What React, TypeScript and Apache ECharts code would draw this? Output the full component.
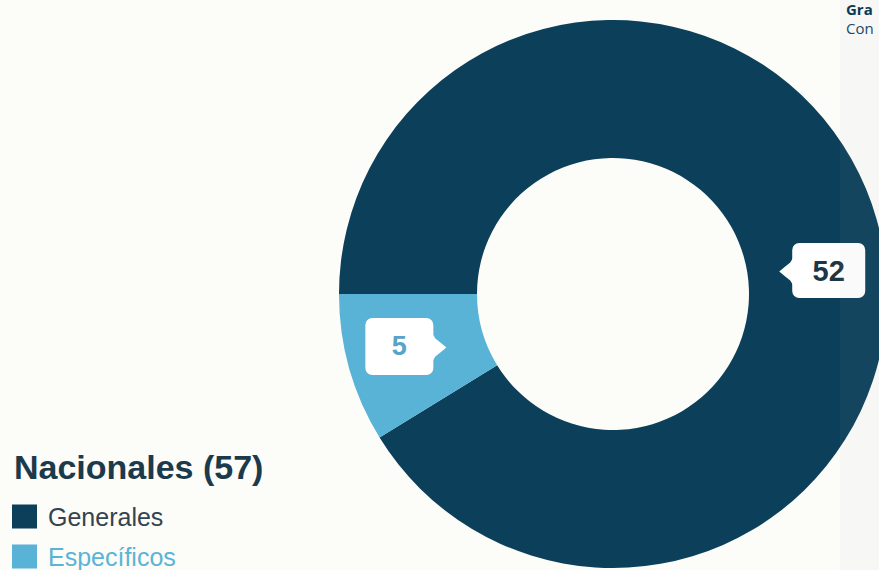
import React, { useEffect, useRef } from "react";
import * as echarts from "echarts";

// ---- data ----
const categories = ["Generales", "Específicos"];
const values = [52, 5];
const titleText = "Nacionales (57)";
const sideTexts = ["Gra", "Con"];

// ---- layout / style ----
const W = 879;
const H = 570;
const CX = 613;
const CY = 294;
const R_IN = 136;
const R_OUT = 274;
const DARK = "#0b3f5a";
const LIGHT = "#58b3d7";
const sliceColors = [DARK, LIGHT];
const labelColors = ["#1d3646", "#5aa3c6"];
const legendTextColors = ["#34434e", "#5ab4d6"];
// label placement (polar, degrees counter-clockwise from 3 o'clock) and box sizes
const labelPolar = [
  { angle: 6.2, r: 217, w: 73, h: 55, side: "left" },
  { angle: 193.8, r: 220, w: 68, h: 57, side: "right" },
];

function labelCenter(i: number) {
  const p = labelPolar[i];
  const a = (p.angle * Math.PI) / 180;
  return { x: CX + p.r * Math.cos(a), y: CY - p.r * Math.sin(a) };
}

function arrowPoints(i: number): number[][] {
  const p = labelPolar[i];
  const c = labelCenter(i);
  const dir = p.side === "left" ? -1 : 1;
  const bx = c.x + dir * (p.w / 2 - 1);
  const cy = c.y + 1;
  const len = 14;
  return [
    [bx, cy - 14],
    [bx + dir * 3, cy - 9],
    [bx + dir * 8, cy - 5],
    [bx + dir * len, cy],
    [bx + dir * 8, cy + 5],
    [bx + dir * 3, cy + 9],
    [bx, cy + 14],
  ];
}

export default function App() {
  const ref = useRef<HTMLDivElement>(null);
  useEffect(() => {
    if (!ref.current) return;
    const chart = echarts.init(ref.current, undefined, { renderer: "svg" });
    const option: any = {
      animation: false,
      backgroundColor: "#fcfcf9",
      title: {
        text: titleText,
        left: 9,
        top: 445,
        textStyle: {
          fontFamily: "Liberation Sans, Arial, sans-serif",
          fontSize: 34,
          fontWeight: "bold",
          color: "#1b3a4c",
        },
      },
      legend: {
        orient: "vertical",
        left: 12,
        top: 504,
        height: 120,
        padding: 0,
        icon: "rect",
        itemWidth: 25,
        itemHeight: 24,
        itemGap: 15,
        selectedMode: false,
        textStyle: {
          fontFamily: "Liberation Sans, Arial, sans-serif",
          fontSize: 25,
          padding: [0, 0, 0, 6],
        },
        data: categories.map((name, i) => ({
          name,
          textStyle: { color: legendTextColors[i] },
        })),
      },
      series: [
        {
          type: "pie",
          center: [CX, CY],
          radius: [R_IN, R_OUT],
          startAngle: 180,
          clockwise: true,
          avoidLabelOverlap: false,
          silent: true,
          itemStyle: { borderWidth: 0 },
          label: {
            show: true,
            position: "inside",
            formatter: "{c}",
            backgroundColor: "#ffffff",
            borderRadius: 7,
            padding: 0,
            align: "center",
            verticalAlign: "middle",
            fontFamily: "Liberation Sans, Arial, sans-serif",
            fontWeight: "bold",
            fontSize: 28,
          },
          labelLine: { show: false },
          labelLayout: (params: any) => {
            const c = labelCenter(params.dataIndex);
            return { x: c.x, y: c.y, align: "center", verticalAlign: "middle" };
          },
          data: categories.map((name, i) => ({
            name,
            value: values[i],
            itemStyle: { color: sliceColors[i] },
            label: {
              color: labelColors[i],
              width: labelPolar[i].w,
              height: labelPolar[i].h,
              lineHeight: labelPolar[i].h,
              fontSize: i === 0 ? 29 : 27,
            },
          })),
        },
      ],
      graphic: [
        ...categories.map((_, i) => ({
          type: "polygon",
          z: 100,
          shape: { points: arrowPoints(i) },
          style: { fill: "#ffffff" },
        })),
        {
          type: "rect",
          z: 200,
          shape: { x: 840, y: 0, width: W - 840, height: H },
          style: { fill: "rgba(170,178,190,0.06)" },
        },
        {
          type: "text",
          z: 210,
          x: 846,
          y: 1,
          style: {
            text: sideTexts[0],
            fontFamily: "Open Sans, sans-serif",
            fontWeight: "bold",
            fontSize: 15,
            lineHeight: 16,
            fill: "#0c3a54",
            textVerticalAlign: "top",
          },
        },
        {
          type: "text",
          z: 210,
          x: 846,
          y: 20,
          style: {
            text: sideTexts[1],
            fontFamily: "Open Sans, sans-serif",
            fontSize: 15,
            lineHeight: 16,
            fill: "#1a4a66",
            textVerticalAlign: "top",
          },
        },
      ],
    };
    chart.setOption(option);
    return () => chart.dispose();
  }, []);
  return (
    <div
      ref={ref}
      style={{ position: "fixed", left: 0, top: 0, width: W, height: H }}
    />
  );
}
